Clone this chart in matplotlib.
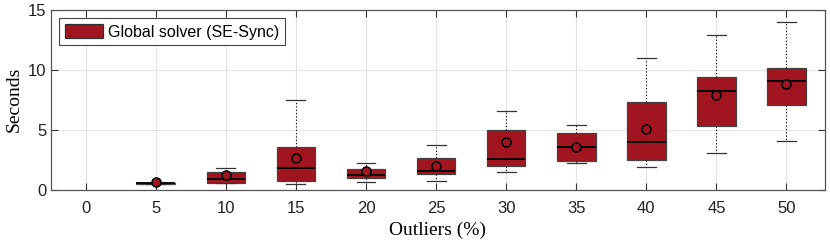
import matplotlib.pyplot as plt
from matplotlib.patches import Patch
import numpy as np

# outlier ratio (%) and per-level box statistics in seconds
outliers = [0, 5, 10, 15, 20, 25, 30, 35, 40, 45, 50]
q1 = [np.nan, 0.52, 0.61, 0.75, 0.97, 1.33, 2.00, 2.38, 2.52, 5.32, 7.07]
med = [np.nan, 0.55, 0.89, 1.80, 1.25, 1.61, 2.55, 3.60, 4.02, 8.26, 9.09]
q3 = [np.nan, 0.58, 1.47, 3.60, 1.75, 2.66, 4.96, 4.71, 7.34, 9.39, 10.11]
whislo = [np.nan, 0.52, 0.55, 0.50, 0.69, 0.75, 1.52, 2.22, 1.91, 3.05, 4.10]
whishi = [np.nan, 0.58, 1.80, 7.45, 2.27, 3.71, 6.59, 5.43, 10.94, 12.88, 13.97]
means = [np.nan, 0.69, 1.27, 2.69, 1.61, 2.00, 3.99, 3.60, 5.04, 7.90, 8.84]

box_red = "#A01520"

stats = []
for i in range(len(outliers)):
    if np.isnan(med[i]):
        continue
    stats.append(dict(label=str(outliers[i]), q1=q1[i], med=med[i], q3=q3[i],
                      whislo=whislo[i], whishi=whishi[i], mean=means[i], fliers=[]))
pos = [i + 1 for i in range(len(outliers)) if not np.isnan(med[i])]

fig = plt.figure(figsize=(8.3, 2.45), dpi=100)
ax = fig.add_axes([0.061, 0.2245, 0.933, 0.7365])

ax.grid(True, color="#e3e3e3", linewidth=0.8, zorder=0)
ax.set_axisbelow(True)

ax.bxp(stats, positions=pos, widths=0.55, patch_artist=True, showmeans=True,
       showfliers=False,
       boxprops=dict(facecolor=box_red, edgecolor="#444444", linewidth=0.9),
       medianprops=dict(color="black", linewidth=1.3),
       whiskerprops=dict(color="black", linestyle=(0, (1, 2)), linewidth=0.8),
       capprops=dict(color="#333333", linewidth=0.9),
       meanprops=dict(marker="o", markerfacecolor=box_red, markeredgecolor="black",
                      markeredgewidth=1.1, markersize=6.5),
       capwidths=0.27, zorder=3)

ax.set_xlim(0.5, 11.55)
ax.set_ylim(0, 15)
ax.set_xticks(range(1, len(outliers) + 1))
ax.set_xticklabels([str(o) for o in outliers])
ax.set_yticks([0, 5, 10, 15])

ax.tick_params(direction="in", top=True, right=True, length=5, width=0.8,
               colors="#333333", labelsize=12)
ax.tick_params(axis="x", pad=8)
ax.tick_params(axis="y", pad=3)
for lab in ax.get_xticklabels() + ax.get_yticklabels():
    lab.set_fontfamily("Liberation Sans")
    lab.set_color("#222222")
for sp in ax.spines.values():
    sp.set_color("#555555")
    sp.set_linewidth(0.9)

ax.set_xlabel("Outliers (%)", fontfamily="Liberation Serif", fontsize=14, labelpad=4)
ax.set_ylabel("Seconds", fontfamily="Liberation Serif", fontsize=14, labelpad=4)

leg = ax.legend(handles=[Patch(facecolor=box_red, edgecolor="#333333", linewidth=0.9,
                               label="Global solver (SE-Sync)")],
                loc="upper left", fancybox=False, framealpha=1,
                prop=dict(family="Liberation Sans", size=11.5),
                handlelength=2.4, handleheight=1.0, borderpad=0.35,
                handletextpad=0.3, borderaxespad=0.55)
leg.get_frame().set_edgecolor("#444444")
leg.get_frame().set_linewidth(0.8)

fig.savefig("out.png", dpi=100)
